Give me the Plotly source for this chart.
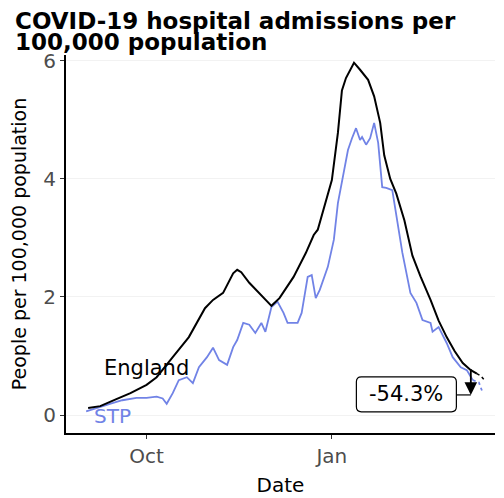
import plotly.graph_objects as go

# ---- data ----
england_dates = ["2020-09-02", "2020-09-08", "2020-09-16", "2020-09-23", "2020-10-01", "2020-10-06",
                 "2020-10-14", "2020-10-22", "2020-10-30", "2020-11-03", "2020-11-08", "2020-11-13",
                 "2020-11-15", "2020-11-17", "2020-11-21", "2020-11-28", "2020-12-02", "2020-12-06",
                 "2020-12-13", "2020-12-19", "2020-12-23", "2020-12-25", "2020-12-29", "2021-01-01",
                 "2021-01-04", "2021-01-06", "2021-01-08", "2021-01-12", "2021-01-15", "2021-01-19",
                 "2021-01-22", "2021-01-25", "2021-01-27", "2021-01-30", "2021-02-02", "2021-02-06",
                 "2021-02-10", "2021-02-14", "2021-02-19", "2021-02-23", "2021-02-27", "2021-03-03",
                 "2021-03-07", "2021-03-11", "2021-03-14"]
england_values = [0.12, 0.15, 0.27, 0.37, 0.51, 0.64,
                  0.98, 1.32, 1.81, 1.95, 2.07, 2.40,
                  2.46, 2.42, 2.24, 2.00, 1.85, 1.98,
                  2.34, 2.74, 3.05, 3.14, 3.64, 3.98,
                  4.78, 5.50, 5.71, 5.97, 5.85, 5.68,
                  5.40, 4.95, 4.40, 4.00, 3.75, 3.30,
                  2.70, 2.35, 1.95, 1.60, 1.32, 1.08,
                  0.88, 0.76, 0.70]
england_tail_dates = ["2021-03-14", "2021-03-16", "2021-03-18"]
england_tail_values = [0.70, 0.66, 0.58]

stp_dates = ["2020-09-01", "2020-09-08", "2020-09-14", "2020-09-19", "2020-09-26", "2020-10-01",
             "2020-10-06", "2020-10-09", "2020-10-11", "2020-10-14", "2020-10-17", "2020-10-21",
             "2020-10-24", "2020-10-27", "2020-10-31", "2020-11-03", "2020-11-06", "2020-11-10",
             "2020-11-13", "2020-11-15", "2020-11-18", "2020-11-21", "2020-11-24", "2020-11-27",
             "2020-11-29", "2020-12-02", "2020-12-05", "2020-12-08", "2020-12-10", "2020-12-15",
             "2020-12-17", "2020-12-20", "2020-12-22", "2020-12-24", "2020-12-26", "2020-12-30",
             "2021-01-02", "2021-01-04", "2021-01-07", "2021-01-09", "2021-01-11", "2021-01-13",
             "2021-01-15", "2021-01-16", "2021-01-18", "2021-01-20", "2021-01-22", "2021-01-24",
             "2021-01-26", "2021-01-28", "2021-01-31", "2021-02-03", "2021-02-05", "2021-02-09",
             "2021-02-12", "2021-02-15", "2021-02-19", "2021-02-20", "2021-02-23", "2021-02-27",
             "2021-03-02", "2021-03-06", "2021-03-09", "2021-03-12"]
stp_values = [0.06, 0.14, 0.20, 0.25, 0.29, 0.29,
              0.31, 0.28, 0.19, 0.37, 0.59, 0.64,
              0.54, 0.81, 0.98, 1.14, 0.93, 0.85,
              1.15, 1.27, 1.56, 1.53, 1.39, 1.56,
              1.41, 1.83, 1.92, 1.73, 1.56, 1.56,
              1.73, 2.34, 2.37, 1.98, 2.12, 2.51,
              2.97, 3.59, 4.15, 4.49, 4.69, 4.86,
              4.66, 4.71, 4.58, 4.69, 4.95, 4.61,
              3.86, 3.85, 3.81, 3.14, 2.75, 2.07,
              1.90, 1.61, 1.56, 1.41, 1.49, 1.22,
              0.98, 0.81, 0.76, 0.59]
stp_tail_dates = ["2021-03-12", "2021-03-15", "2021-03-17"]
stp_tail_values = [0.59, 0.55, 0.37]

title_lines = ["COVID-19 hospital admissions per", "100,000 population"]
change_label = "-54.3%"
arrow_date = "2021-03-11"
arrow_from = 0.80
arrow_to = 0.34

x_tick_vals = ["2020-10-01", "2021-01-01"]
x_tick_text = ["Oct", "Jan"]
y_tick_vals = [0, 2, 4, 6]

BLUE = "#7183e6"
FONT = "DejaVu Sans"

fig = go.Figure()
fig.add_trace(go.Scatter(x=stp_dates, y=stp_values, mode="lines",
                         line=dict(color=BLUE, width=1.8), showlegend=False))
fig.add_trace(go.Scatter(x=stp_tail_dates, y=stp_tail_values, mode="lines",
                         line=dict(color=BLUE, width=1.8, dash="dot"), showlegend=False))
fig.add_trace(go.Scatter(x=england_dates, y=england_values, mode="lines",
                         line=dict(color="black", width=2), showlegend=False))
fig.add_trace(go.Scatter(x=england_tail_dates, y=england_tail_values, mode="lines",
                         line=dict(color="black", width=1.5, dash="dot"), showlegend=False))

# title (two lines, tight spacing)
fig.add_annotation(xref="paper", yref="paper", x=-0.1235, y=1.089, xanchor="left", yanchor="middle",
                   text="<b>" + title_lines[0] + "</b>", showarrow=False,
                   font=dict(family=FONT, size=23, color="black"))
fig.add_annotation(xref="paper", yref="paper", x=-0.1235, y=1.035, xanchor="left", yanchor="middle",
                   text="<b>" + title_lines[1] + "</b>", showarrow=False,
                   font=dict(family=FONT, size=23, color="black"))

# series labels
fig.add_annotation(x="2020-10-01", y=0.8, text="England", showarrow=False,
                   font=dict(family=FONT, size=21, color="black"))
fig.add_annotation(x="2020-09-14", y=-0.02, text="STP", showarrow=False,
                   font=dict(family=FONT, size=20, color=BLUE))

# change arrow
fig.add_annotation(x=arrow_date, y=arrow_to, ax=arrow_date, ay=arrow_from,
                   xref="x", yref="y", axref="x", ayref="y", text="",
                   showarrow=True, arrowhead=2, arrowsize=1.4, arrowwidth=1.8, arrowcolor="black")
fig.add_shape(type="line", x0="2021-03-04", x1=arrow_date, y0=arrow_to, y1=arrow_to,
              line=dict(color="black", width=1.2))
# rounded label box
fig.add_shape(type="path", xref="x", yref="y", xsizemode="pixel", ysizemode="pixel",
              xanchor="2021-02-07", yanchor=0.35,
              path="M -45,-17.5 L 45,-17.5 Q 50,-17.5 50,-12.5 L 50,12.5 Q 50,17.5 45,17.5 "
                   "L -45,17.5 Q -50,17.5 -50,12.5 L -50,-12.5 Q -50,-17.5 -45,-17.5 Z",
              line=dict(color="black", width=1.2), fillcolor="white", layer="above")
fig.add_annotation(x="2021-02-07", y=0.35, text=change_label, showarrow=False,
                   font=dict(family=FONT, size=21, color="black"))

# page body adds an 8px offset, so the figure is sized to fit inside the window
fig.update_layout(
    width=496, height=490,
    margin=dict(l=58, r=9, t=47, b=65),
    paper_bgcolor="white", plot_bgcolor="white",
    font=dict(family=FONT),
)
fig.update_xaxes(range=["2020-08-22", "2021-03-23"], tickvals=x_tick_vals, ticktext=x_tick_text,
                 showline=True, linecolor="black", linewidth=2, ticks="outside", ticklen=4,
                 tickcolor="#333333", showgrid=False, zeroline=False, automargin=False,
                 tickfont=dict(family=FONT, size=20, color="#4d4d4d"),
                 title=dict(text="Date", font=dict(family=FONT, size=20, color="black"), standoff=11))
fig.update_yaxes(range=[-0.305, 6.1], tickvals=y_tick_vals,
                 showline=True, linecolor="black", linewidth=2, ticks="outside", ticklen=4,
                 tickcolor="#333333", showgrid=True, gridcolor="#f2f2f2", zeroline=False,
                 automargin=False,
                 tickfont=dict(family=FONT, size=20, color="#4d4d4d"),
                 title=dict(text="People per 100,000 population",
                            font=dict(family=FONT, size=19, color="black"), standoff=13))

fig.write_html("out.html")
